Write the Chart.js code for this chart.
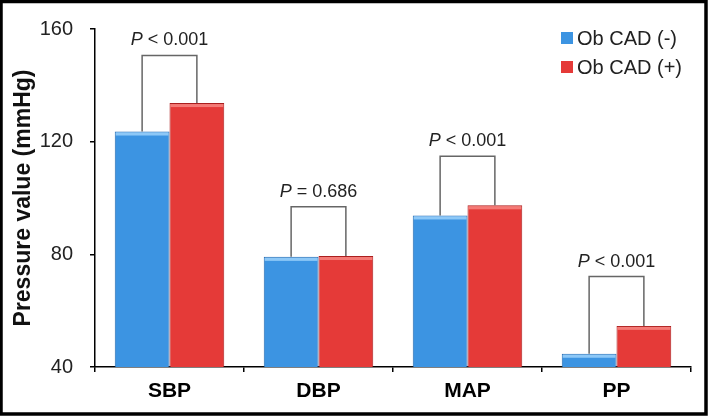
<!DOCTYPE html>
<html>
<head>
<meta charset="utf-8">
<script src="https://cdn.jsdelivr.net/npm/chart.js@4.4.0/dist/chart.umd.min.js"></script>
<style>
  html, body { margin: 0; padding: 0; background: #fff; }
  canvas { display: block; }
</style>
</head>
<body>
<canvas id="myChart" width="709" height="416"></canvas>
<script>
'use strict';

const categories = ['SBP', 'DBP', 'MAP', 'PP'];
const seriesNames = ['Ob CAD (-)', 'Ob CAD (+)'];
const obCadNeg = [123.6, 79.1, 93.8, 44.7];
const obCadPos = [133.7, 79.4, 97.4, 54.6];
// top of the comparison bracket over each pair, in mmHg
const bracketTop = [150.6, 96.9, 114.8, 72.1];
const pText = ['< 0.001', '= 0.686', '< 0.001', '< 0.001'];
const yTicks = [40, 80, 120, 160];

const FONT = '"Liberation Sans", Arial, sans-serif';
const blue = 'rgb(60, 148, 226)';
const red = 'rgb(229, 58, 56)';

// brackets, p values, legend and the frame
const extras = {
  id: 'extras',
  afterDatasetsDraw(chart) {
    const ctx = chart.ctx;
    const y = chart.scales.y;
    const m0 = chart.getDatasetMeta(0);
    const m1 = chart.getDatasetMeta(1);

    // light bevel on the bar tops
    ctx.save();
    [[m0, 'rgba(150, 205, 250, 0.9)'], [m1, 'rgba(245, 130, 125, 0.9)']].forEach(function (pair) {
      pair[0].data.forEach(function (bar) {
        const w = bar.width;
        ctx.fillStyle = pair[1];
        ctx.fillRect(bar.x - w / 2 + 1, bar.y + 1, w - 2, 3);
      });
    });
    ctx.restore();

    ctx.save();
    ctx.strokeStyle = '#666';
    ctx.lineWidth = 1.5;
    for (let i = 0; i < categories.length; i++) {
      const b0 = m0.data[i];
      const b1 = m1.data[i];
      const top = y.getPixelForValue(bracketTop[i]);
      ctx.beginPath();
      ctx.moveTo(b0.x, b0.y);
      ctx.lineTo(b0.x, top);
      ctx.lineTo(b1.x, top);
      ctx.lineTo(b1.x, b1.y);
      ctx.stroke();

      // "P" in italics, rest upright
      const cx = (b0.x + b1.x) / 2;
      const ty = top - 15;
      ctx.fillStyle = '#222';
      ctx.textBaseline = 'middle';
      ctx.font = 'italic 18px ' + FONT;
      const wP = ctx.measureText('P').width;
      ctx.font = '18px ' + FONT;
      const rest = ' ' + pText[i];
      const wR = ctx.measureText(rest).width;
      const x0 = cx - (wP + wR) / 2;
      ctx.textAlign = 'left';
      ctx.font = 'italic 18px ' + FONT;
      ctx.fillText('P', x0, ty);
      ctx.font = '18px ' + FONT;
      ctx.fillText(rest, x0 + wP, ty);
    }
    ctx.restore();

    // legend
    ctx.save();
    const cols = [blue, red];
    for (let i = 0; i < seriesNames.length; i++) {
      const ly = 38 + i * 29;
      ctx.fillStyle = cols[i];
      ctx.fillRect(561, ly - 6, 12, 12);
      ctx.fillStyle = '#222';
      ctx.font = '20px ' + FONT;
      ctx.textAlign = 'left';
      ctx.textBaseline = 'middle';
      ctx.fillText(seriesNames[i], 577, ly + 1);
    }
    ctx.restore();

    // outer frame
    ctx.save();
    ctx.strokeStyle = '#000';
    ctx.lineWidth = 3.5;
    ctx.strokeRect(1, 1.5, 705, 412.5);
    ctx.restore();
  }
};

const ctx = document.getElementById('myChart').getContext('2d');
new Chart(ctx, {
  type: 'bar',
  data: {
    labels: categories,
    datasets: [
      {
        label: seriesNames[0],
        data: obCadNeg,
        backgroundColor: blue,
        borderColor: 'rgb(35, 105, 175)',
        borderWidth: 1,
        barPercentage: 1,
        categoryPercentage: 0.735
      },
      {
        label: seriesNames[1],
        data: obCadPos,
        backgroundColor: red,
        borderColor: 'rgb(170, 30, 30)',
        borderWidth: 1,
        barPercentage: 1,
        categoryPercentage: 0.735
      }
    ]
  },
  options: {
    responsive: false,
    animation: false,
    layout: { padding: { left: 0, top: 24, right: 18, bottom: 0 } },
    plugins: {
      legend: { display: false },
      tooltip: { enabled: false }
    },
    scales: {
      x: {
        offset: true,
        grid: { offset: true, drawOnChartArea: false, drawTicks: true, tickLength: 5, tickColor: '#000', lineWidth: 1.5 },
        border: { display: true, color: '#000', width: 1.5 },
        ticks: { color: '#000', padding: 7, font: { family: FONT, size: 21, weight: 'bold' } },
        afterFit: function (s) { s.height = 49; }
      },
      y: {
        min: 40,
        max: 160,
        afterBuildTicks: function (s) { s.ticks = yTicks.map(function (v) { return { value: v }; }); },
        grid: { drawOnChartArea: false, drawTicks: true, tickLength: 5, tickColor: '#000', lineWidth: 1.5 },
        border: { display: true, color: '#000', width: 1.5 },
        ticks: { color: '#222', padding: 17, font: { family: FONT, size: 20 } },
        title: {
          display: true,
          text: 'Pressure value (mmHg)',
          color: '#111',
          font: { family: FONT, size: 23, weight: 'bold' },
          padding: { top: 10, bottom: 0 }
        },
        afterFit: function (s) { s.width = 95; }
      }
    }
  },
  plugins: [extras]
});
</script>
</body>
</html>
